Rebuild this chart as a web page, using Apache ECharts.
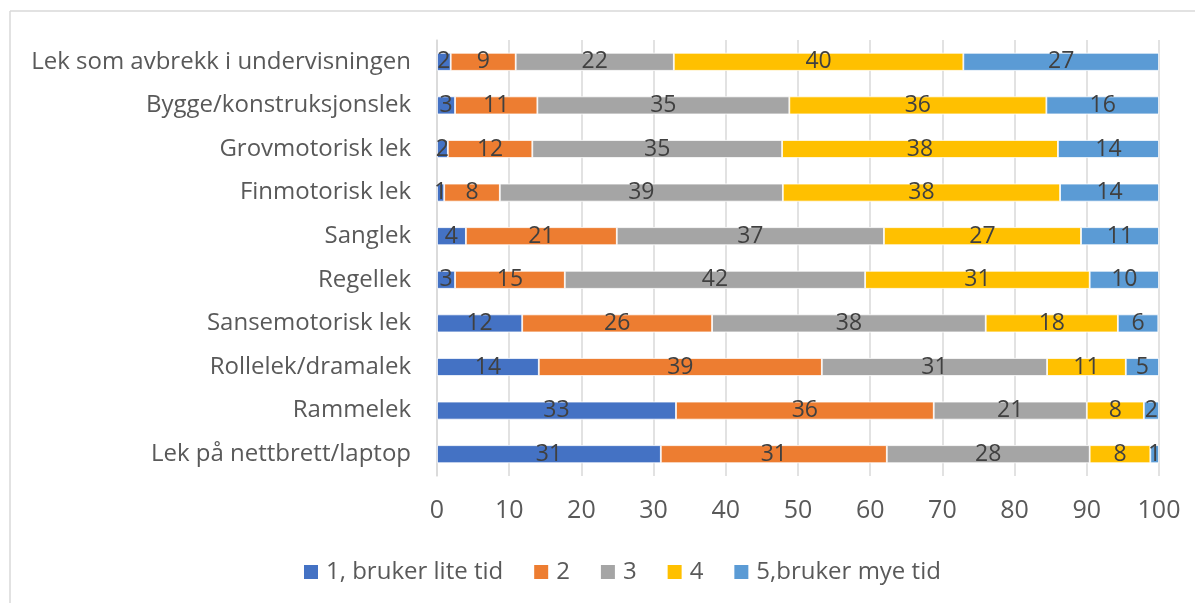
<!DOCTYPE html>
<html>
<head>
<meta charset="utf-8">
<script src="https://cdn.jsdelivr.net/npm/echarts@6/dist/echarts.min.js"></script>
<style>
html, body { margin: 0; padding: 0; background: #fff; }
#chart { width: 1195px; height: 603px; }
</style>
</head>
<body>
<div id="chart"></div>
<script>
// kategorier, nederst først (yAxis går nedenfra)
var categories = ['Lek på nettbrett/laptop', 'Rammelek', 'Rollelek/dramalek', 'Sansemotorisk lek', 'Regellek',
	'Sanglek', 'Finmotorisk lek', 'Grovmotorisk lek', 'Bygge/konstruksjonslek', 'Lek som avbrekk i undervisningen'];
var seriesNames = ['1, bruker lite tid', '2', '3', '4', '5,bruker mye tid'];

// prosent per kategori, lest av bildet
var s1 = [31.0, 33.1, 14.1, 11.8, 2.5, 4.0, 1.0, 1.5, 2.5, 1.9];
var s2 = [31.3, 35.7, 39.2, 26.3, 15.2, 20.9, 7.7, 11.7, 11.4, 9.0];
var s3 = [28.1, 21.2, 31.2, 37.9, 41.6, 37.0, 39.2, 34.6, 34.9, 21.9];
var s4 = [8.4, 7.9, 10.9, 18.3, 31.1, 27.3, 38.4, 38.2, 35.6, 40.1];
var s5 = [1.2, 2.1, 4.6, 5.6, 9.6, 10.8, 13.7, 14.0, 15.6, 27.1];
var colors = ['#4472C4', '#ED7D31', '#A5A5A5', '#FFC000', '#5B9BD5'];

var font = 'Open Sans';
var allData = [s1, s2, s3, s4, s5];
var series = [];
for (var i = 0; i < allData.length; i++) {
	series.push({
		name: seriesNames[i],
		type: 'bar',
		stack: 'total',
		barWidth: 18,
		data: allData[i],
		itemStyle: { color: colors[i], borderColor: '#fff', borderWidth: 0.8 },
		label: {
			show: true,
			position: 'inside',
			color: '#404040',
			fontFamily: font,
			fontSize: 23,
			formatter: function (p) { return Math.round(p.value); }
		}
	});
}

var myChart = echarts.init(document.getElementById('chart'));
var option = {
	animation: false,
	color: colors,
	graphic: [
		{ type: 'line', shape: { x1: 10, y1: 11, x2: 1195, y2: 11 }, style: { stroke: '#d9d9d9', lineWidth: 1.5 } },
		{ type: 'line', shape: { x1: 10, y1: 11, x2: 10, y2: 603 }, style: { stroke: '#d9d9d9', lineWidth: 1.5 } }
	],
	grid: { left: 437, right: 36, top: 40, bottom: 127, containLabel: false },
	legend: {
		top: 555,
		left: 297,
		icon: 'rect',
		itemWidth: 16,
		itemHeight: 16,
		itemGap: 29,
		textStyle: { color: '#595959', fontFamily: font, fontSize: 24, padding: [0, 0, 0, 2] },
		data: seriesNames
	},
	xAxis: {
		type: 'value',
		min: 0,
		max: 100,
		interval: 10,
		axisLine: { show: false },
		axisTick: { show: false },
		splitLine: { lineStyle: { color: '#d9d9d9', width: 1.5 } },
		axisLabel: { color: '#595959', fontFamily: font, fontSize: 25, margin: 22 }
	},
	yAxis: {
		type: 'category',
		data: categories,
		axisLine: { lineStyle: { color: '#d9d9d9', width: 1.5 } },
		axisTick: { show: false },
		axisLabel: { color: '#595959', fontFamily: font, fontSize: 24, margin: 26 }
	},
	series: series
};
myChart.setOption(option);
</script>
</body>
</html>
